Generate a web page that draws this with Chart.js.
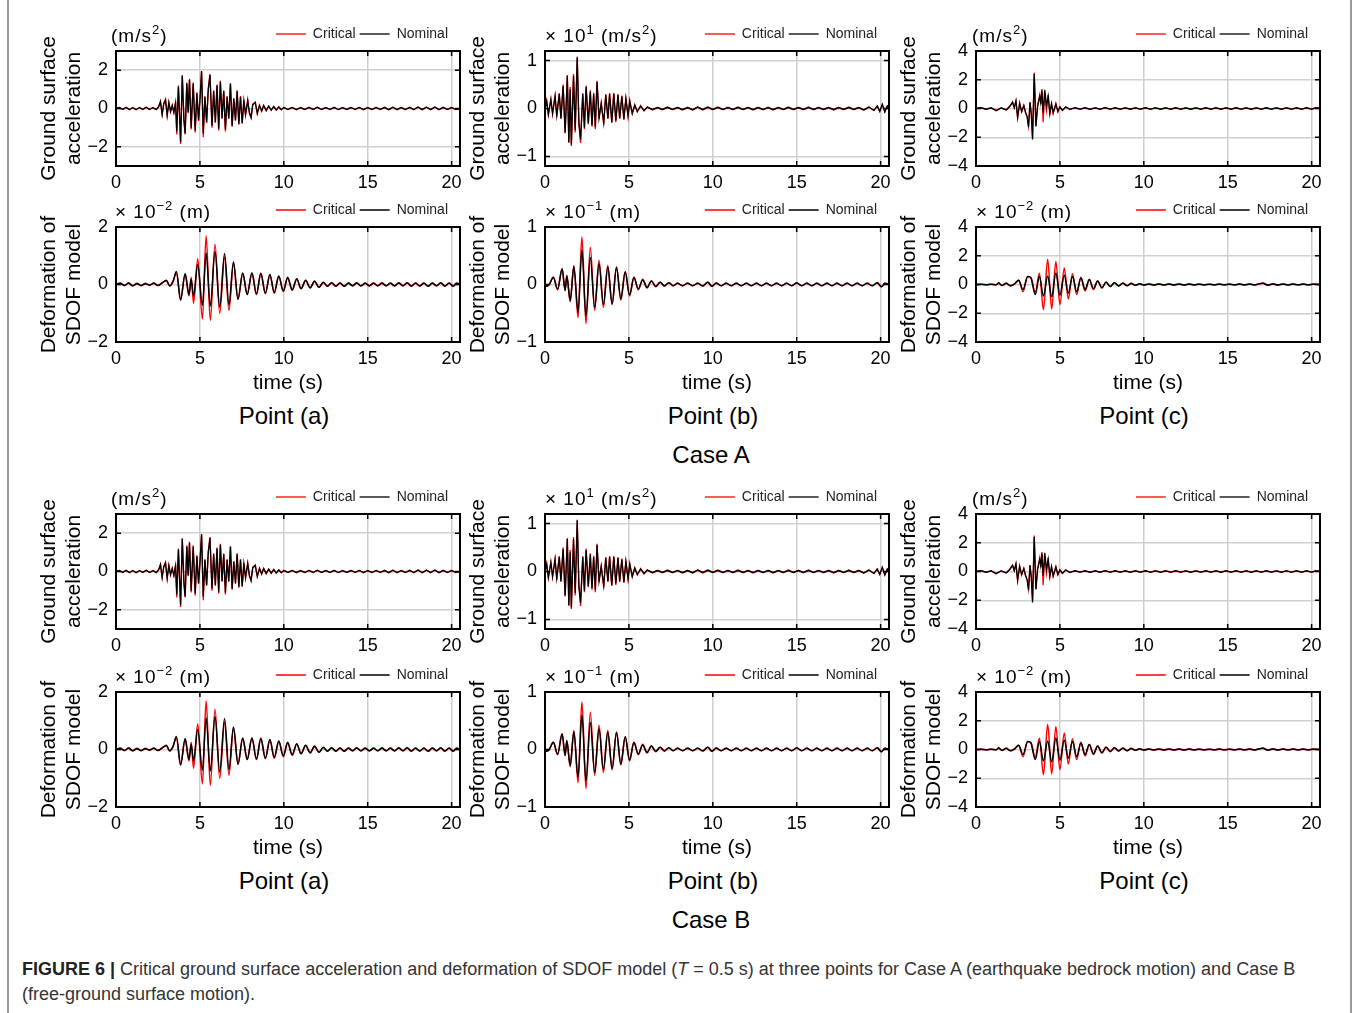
<!DOCTYPE html>
<html>
<head>
<meta charset="utf-8">
<script src="https://cdn.jsdelivr.net/npm/chart.js@4.4.1/dist/chart.umd.min.js"></script>
<style>
  body { margin: 0; width: 1357px; height: 1013px; background: #fff; position: relative; overflow: hidden;
         font-family: 'Liberation Sans', Arial, sans-serif; }
  #frame { position: absolute; left: 7px; top: -2px; width: 1341px; height: 1020px;
           border-left: 2px solid #9a9a9a; border-right: 2px solid #9a9a9a; }
  canvas { position: absolute; }
  .unit { position: absolute; font-size: 19px; line-height: 20px; letter-spacing: 1px; color: #000; white-space: nowrap; }
  .unit sup { font-size: 13px; line-height: 0; vertical-align: 0; position: relative; top: -0.65em; }
  .lbl { position: absolute; font-size: 24px; color: #000; transform: translate(-50%, -50%); white-space: nowrap; }
  #caption { position: absolute; left: 22px; top: 957px; width: 1320px; font-size: 18px; line-height: 25px; color: #333; }
  #caption b { color: #222; }
</style>
</head>
<body>
<div id="frame"></div>
<div id="caption"><b>FIGURE 6 |</b> Critical ground surface acceleration and deformation of SDOF model (<i>T</i> = 0.5 s) at three points for Case A (earthquake bedrock motion) and Case B<br>(free-ground surface motion).</div>

<script>
// ---- data (time in s) ----
const timeTicks = [0, 5, 10, 15, 20];

// Point (a) ground surface acceleration (m/s^2)
const tAccA = [0, 0.2, 0.4, 0.6, 0.8, 1.0, 1.2, 1.4, 1.6, 1.8, 2.0, 2.2, 2.4,
  2.55, 2.65, 2.75, 2.85, 2.95, 3.05, 3.15, 3.25, 3.35, 3.45, 3.55,
  3.62, 3.72, 3.85, 3.95, 4.05, 4.12, 4.22, 4.3, 4.38, 4.48,
  4.6, 4.72, 4.82, 4.92, 5.0, 5.1, 5.2, 5.3, 5.4, 5.5,
  5.6, 5.72, 5.82, 5.92, 6.02, 6.12, 6.22, 6.32, 6.42, 6.52,
  6.62, 6.72, 6.82, 6.92, 7.02, 7.12, 7.22, 7.32, 7.42, 7.52,
  7.62, 7.72, 7.85, 7.95, 8.05, 8.15, 8.3, 8.42, 8.55, 8.68,
  8.8, 8.95, 9.1, 9.25, 9.4, 9.55, 9.7, 9.85,
  10.0, 10.25, 10.5, 10.75, 11.0, 11.25, 11.5, 11.75, 12.0, 12.25,
  12.5, 12.75, 13.0, 13.25, 13.5, 13.75, 14.0, 14.25, 14.5, 14.75,
  15.0, 15.25, 15.5, 15.75, 16.0, 16.25, 16.5, 16.75, 17.0, 17.25,
  17.5, 17.75, 18.0, 18.25, 18.5, 18.75, 19.0, 19.25, 19.5, 19.75,
  20.0, 20.25, 20.5];
const nomAccA = [0, 0.05, -0.04, 0.06, -0.05, 0.04, -0.06, 0.05, -0.04, 0.07, -0.05, 0.04, -0.06,
  0.1, 0.35, -0.3, 0.25, 0.45, -0.35, 0.3, -0.15, 0.15, -0.2, 0.3,
  -1.2, 1.15, -1.75, 1.7, -0.6, -1.3, 1.3, -0.2, 1.5, -1.0,
  1.3, -1.15, 0.8, -0.6, 0.4, 1.95, -1.3, 0.6, -0.7, 1.0,
  1.75, -0.9, 0.9, -0.7, 1.2, -1.05, 1.4, -0.5, 0.9, -1.1,
  0.6, -0.5, 1.3, -0.9, 0.5, -0.6, 0.9, -0.8, 0.6, -0.75,
  0.4, -0.3, 0.4, -0.2, -0.45, 0.2, 0.3, -0.25, 0.15, -0.12,
  0.15, -0.1, 0.12, -0.08, 0.1, -0.08, 0.08, -0.06,
  0.05, -0.04, 0.06, -0.05, 0.04, -0.05, 0.06, -0.04, 0.07, -0.05,
  0.05, -0.04, 0.05, -0.06, 0.04, -0.05, 0.05, -0.04, 0.06, -0.05,
  0.04, -0.05, 0.06, -0.04, 0.05, -0.06, 0.07, -0.05, 0.04, -0.05,
  0.06, -0.05, 0.08, -0.06, 0.07, -0.05, 0.08, -0.06, 0.05, -0.04,
  0.05, -0.04, 0];
const critAccA = [0, 0.04, -0.05, 0.05, -0.06, 0.05, -0.05, 0.04, -0.05, 0.06, -0.04, 0.05, -0.05,
  0.12, 0.38, -0.32, 0.28, 0.48, -0.38, 0.33, -0.18, 0.18, -0.22, 0.35,
  -1.35, 1.2, -1.85, 1.75, -0.65, -1.35, 1.35, -0.25, 1.55, -1.1,
  1.35, -1.25, 0.85, -0.65, 0.45, 1.9, -1.5, 0.65, -0.75, 1.05,
  1.8, -1.0, 0.95, -0.75, 1.25, -1.15, 1.45, -0.55, 0.95, -1.2,
  0.65, -0.55, 1.3, -0.95, 0.55, -0.65, 0.95, -0.85, 0.65, -0.8,
  0.45, -0.35, 0.45, -0.25, -0.5, 0.22, 0.35, -0.28, 0.18, -0.14,
  0.16, -0.12, 0.13, -0.09, 0.11, -0.09, 0.09, -0.07,
  0.06, -0.05, 0.05, -0.06, 0.05, -0.04, 0.05, -0.05, 0.06, -0.04,
  0.04, -0.05, 0.06, -0.05, 0.05, -0.04, 0.06, -0.05, 0.05, -0.06,
  0.05, -0.04, 0.05, -0.05, 0.06, -0.05, 0.06, -0.06, 0.05, -0.04,
  0.05, -0.06, 0.07, -0.05, 0.08, -0.06, 0.07, -0.05, 0.06, -0.05,
  0.04, -0.05, 0];

// Point (a) SDOF deformation (x10^-2 m)
const tDefA = [0, 0.25, 0.5, 0.75, 1.0, 1.25, 1.5, 1.75, 2.0, 2.25, 2.5, 2.75, 3.0, 3.2, 3.4,
  3.6, 3.85, 4.12, 4.35, 4.48, 4.62, 4.87, 5.15, 5.37, 5.62,
  5.9, 6.18, 6.47, 6.73, 7.0, 7.27, 7.55, 7.82, 8.1, 8.37,
  8.63, 8.9, 9.17, 9.43, 9.7, 9.97, 10.23, 10.5, 10.77, 11.03,
  11.3, 11.57, 11.83, 12.1, 12.35, 12.6, 12.85, 13.1, 13.35, 13.6,
  13.85, 14.1, 14.35, 14.6, 14.85, 15.1, 15.35, 15.6, 15.85, 16.1,
  16.35, 16.6, 16.85, 17.1, 17.35, 17.6, 17.85, 18.1, 18.35, 18.6,
  18.85, 19.1, 19.35, 19.6, 19.85, 20.1, 20.3, 20.5];
const nomDefA = [0, 0.04, -0.03, 0.05, -0.04, 0.03, -0.04, 0.03, -0.02, 0.04, -0.03, 0.05, 0.15, -0.05, 0.1,
  0.45, -0.55, 0.38, -0.35, 0.18, -0.4, 0.7, -0.72, 1.1, -0.75,
  1.15, -0.78, 1.08, -0.7, 0.78, -0.52, 0.4, -0.35, 0.4, -0.33,
  0.38, -0.3, 0.35, -0.28, 0.3, -0.22, 0.25, -0.18, 0.2, -0.15,
  0.15, -0.12, 0.12, -0.1, 0.08, -0.06, 0.06, -0.05, 0.05, -0.06,
  0.05, -0.04, 0.05, -0.05, 0.04, -0.05, 0.04, -0.04, 0.05, -0.04,
  0.04, -0.05, 0.05, -0.04, 0.06, -0.05, 0.05, -0.05, 0.04, -0.06,
  0.05, -0.04, 0.06, -0.05, 0.05, -0.06, 0.04, 0];
const critDefA = [0, 0.05, -0.04, 0.04, -0.05, 0.04, -0.03, 0.04, -0.03, 0.05, -0.04, 0.06, 0.12, -0.04, 0.12,
  0.4, -0.5, 0.35, -0.4, 0.25, -0.65, 0.9, -1.2, 1.7, -1.25,
  1.4, -1.0, 0.95, -0.9, 0.75, -0.5, 0.38, -0.33, 0.4, -0.35,
  0.4, -0.32, 0.33, -0.3, 0.28, -0.25, 0.22, -0.2, 0.18, -0.14,
  0.14, -0.11, 0.1, -0.09, 0.07, -0.05, 0.05, -0.06, 0.05, -0.05,
  0.04, -0.05, 0.06, -0.04, 0.05, -0.04, 0.05, -0.05, 0.04, -0.05,
  0.05, -0.04, 0.06, -0.05, 0.05, -0.06, 0.04, -0.05, 0.05, -0.05,
  0.04, -0.05, 0.05, -0.06, 0.04, -0.05, 0.05, 0];

// Point (b) ground surface acceleration (x10^1 m/s^2)
const tAccB = [0, 0.1, 0.2, 0.35, 0.45, 0.6, 0.7, 0.85, 0.95, 1.08,
  1.2, 1.33, 1.42, 1.5, 1.57, 1.7, 1.8, 1.92, 2.02, 2.12,
  2.25, 2.35, 2.45, 2.58, 2.7, 2.8, 2.9, 3.0, 3.1, 3.22,
  3.35, 3.5, 3.62, 3.75, 3.85, 3.98, 4.1, 4.22, 4.35, 4.45,
  4.58, 4.7, 4.82, 4.95, 5.05, 5.2, 5.35, 5.5, 5.7, 5.9,
  6.1, 6.4, 6.7, 7.0, 7.3, 7.6, 7.9, 8.2, 8.5, 8.8,
  9.1, 9.4, 9.7, 10.0, 10.3, 10.6, 10.9, 11.2, 11.5, 11.8,
  12.1, 12.4, 12.7, 13.0, 13.3, 13.6, 13.9, 14.2, 14.5, 14.8,
  15.1, 15.4, 15.7, 16.0, 16.3, 16.6, 16.9, 17.2, 17.5, 17.8,
  18.1, 18.4, 18.7, 19.0, 19.3, 19.6, 19.8, 19.95, 20.1, 20.25,
  20.4, 20.5];
const nomAccB = [0, 0.15, -0.12, 0.18, -0.1, 0.25, -0.15, 0.3, -0.2, 0.47,
  -0.5, 0.68, -0.7, 0.4, -0.75, 0.68, -0.45, 1.08, -0.3, -0.65,
  0.3, -0.4, 0.45, -0.3, 0.35, -0.35, 0.3, -0.38, 0.55, -0.2,
  0.1, -0.3, 0.28, -0.2, 0.3, -0.28, 0.3, -0.25, 0.28, -0.2,
  0.25, -0.22, 0.2, -0.15, 0.15, -0.1, 0.07, -0.06, 0.05, -0.04,
  0.03, -0.02, 0.02, -0.02, 0.02, -0.02, 0.02, -0.02, 0.02, -0.03,
  0.03, -0.02, 0.03, -0.02, 0.02, -0.02, 0.02, -0.02, 0.02, -0.02,
  0.02, -0.02, 0.02, -0.02, 0.02, -0.02, 0.02, -0.02, 0.02, -0.02,
  0.02, -0.02, 0.02, -0.02, 0.02, -0.02, 0.02, -0.02, 0.02, -0.02,
  0.02, -0.02, 0.02, -0.03, 0.03, -0.04, 0.05, -0.06, 0.09, -0.07,
  0.05, 0];
const critAccB = [0, 0.17, -0.14, 0.2, -0.12, 0.27, -0.17, 0.32, -0.22, 0.5,
  -0.52, 0.7, -0.72, 0.45, -0.78, 0.72, -0.5, 1.05, -0.32, -0.72,
  0.32, -0.43, 0.48, -0.33, 0.38, -0.38, 0.33, -0.43, 0.58, -0.22,
  0.12, -0.33, 0.3, -0.22, 0.32, -0.3, 0.33, -0.28, 0.3, -0.22,
  0.27, -0.24, 0.22, -0.17, 0.17, -0.11, 0.08, -0.07, 0.06, -0.05,
  0.03, -0.03, 0.02, -0.02, 0.03, -0.02, 0.02, -0.03, 0.02, -0.02,
  0.03, -0.03, 0.02, -0.02, 0.03, -0.02, 0.02, -0.02, 0.03, -0.02,
  0.02, -0.03, 0.02, -0.02, 0.02, -0.03, 0.02, -0.02, 0.03, -0.02,
  0.02, -0.02, 0.03, -0.02, 0.02, -0.02, 0.02, -0.03, 0.02, -0.02,
  0.03, -0.02, 0.02, -0.03, 0.03, -0.04, 0.05, -0.06, 0.08, -0.07,
  0.05, 0];

// Point (b) SDOF deformation (x10^-1 m)
const tDefB = [0, 0.1, 0.25, 0.5, 0.75, 1.02, 1.2, 1.3, 1.5, 1.72,
  1.97, 2.2, 2.44, 2.7, 2.96, 3.22, 3.48, 3.74, 4.0, 4.26,
  4.52, 4.78, 5.04, 5.3, 5.56, 5.82, 6.08, 6.34, 6.6, 6.86,
  7.12, 7.38, 7.64, 7.9, 8.2, 8.5, 8.8, 9.1, 9.4, 9.7,
  9.95, 10.2, 10.5, 10.8, 11.1, 11.4, 11.7, 12.0, 12.3, 12.6,
  12.9, 13.2, 13.5, 13.8, 14.1, 14.4, 14.7, 15.0, 15.3, 15.6,
  15.9, 16.2, 16.5, 16.8, 17.1, 17.4, 17.7, 18.0, 18.3, 18.6,
  18.9, 19.2, 19.5, 19.8, 20.05, 20.25, 20.5];
const nomDefB = [0, -0.03, 0.0, 0.12, -0.08, 0.27, -0.1, 0.15, -0.28, 0.31,
  -0.48, 0.6, -0.55, 0.47, -0.4, 0.36, -0.35, 0.3, -0.33, 0.3,
  -0.25, 0.22, -0.18, 0.12, -0.08, 0.08, -0.05, 0.06, -0.03, 0.04,
  -0.02, 0.03, -0.02, 0.02, -0.02, 0.02, -0.02, 0.02, -0.02, 0.04,
  -0.03, 0.02, -0.02, 0.02, -0.02, 0.02, -0.02, 0.02, -0.02, 0.02,
  -0.02, 0.02, -0.02, 0.02, -0.02, 0.02, -0.02, 0.03, -0.02, 0.02,
  -0.02, 0.02, -0.02, 0.02, -0.02, 0.02, -0.02, 0.02, -0.02, 0.02,
  -0.02, 0.02, -0.02, 0.03, -0.04, 0.02, 0];
const critDefB = [0, -0.03, 0.0, 0.13, -0.09, 0.28, -0.11, 0.16, -0.3, 0.33,
  -0.58, 0.83, -0.68, 0.65, -0.45, 0.42, -0.4, 0.33, -0.35, 0.3,
  -0.27, 0.22, -0.2, 0.13, -0.09, 0.09, -0.06, 0.06, -0.04, 0.04,
  -0.03, 0.03, -0.02, 0.02, -0.02, 0.02, -0.02, 0.02, -0.03, 0.04,
  -0.03, 0.03, -0.02, 0.02, -0.02, 0.02, -0.02, 0.02, -0.02, 0.02,
  -0.02, 0.02, -0.02, 0.02, -0.02, 0.02, -0.02, 0.02, -0.02, 0.02,
  -0.02, 0.02, -0.02, 0.02, -0.02, 0.02, -0.02, 0.02, -0.02, 0.02,
  -0.02, 0.02, -0.02, 0.03, -0.04, 0.02, 0];

// Point (c) ground surface acceleration (m/s^2)
const tAccC = [0, 0.3, 0.6, 0.9, 1.2, 1.5, 1.8, 2.0, 2.18, 2.28,
  2.38, 2.48, 2.6, 2.72, 2.85, 2.95, 3.05, 3.13, 3.22, 3.3,
  3.37, 3.47, 3.57, 3.67, 3.8, 3.86, 3.93, 4.0, 4.1, 4.2,
  4.3, 4.4, 4.5, 4.6, 4.76, 4.88, 5.0, 5.15, 5.35, 5.6,
  5.9, 6.2, 6.5, 6.8, 7.1, 7.4, 7.7, 8.0, 8.3, 8.6,
  8.9, 9.2, 9.5, 9.8, 10.1, 10.4, 10.7, 11.0, 11.3, 11.6,
  11.9, 12.2, 12.5, 12.8, 13.1, 13.4, 13.7, 14.0, 14.3, 14.6,
  14.9, 15.2, 15.5, 15.8, 16.1, 16.4, 16.7, 17.0, 17.3, 17.6,
  17.9, 18.2, 18.5, 18.8, 19.1, 19.4, 19.7, 20.0, 20.25, 20.5];
const nomAccC = [0, 0.06, -0.05, 0.05, -0.15, 0.04, -0.1, 0.12, 0.45, 0.05,
  0.55, -0.6, 0.35, -0.2, 0.2, -0.25, -0.6, -1.3, 0.45, -0.5,
  -2.15, 2.4, -1.25, 0.15, 0.85, 0.4, 1.25, -0.3, 1.3, 0.15,
  0.85, -0.3, 0.35, -0.3, 0.3, -0.2, 0.1, -0.12, 0.1, -0.06,
  0.05, -0.04, 0.05, -0.05, 0.04, -0.05, 0.06, -0.04, 0.05, -0.04,
  0.04, -0.05, 0.04, -0.04, 0.05, -0.04, 0.04, -0.05, 0.04, -0.04,
  0.05, -0.04, 0.04, -0.05, 0.04, -0.04, 0.05, -0.04, 0.04, -0.05,
  0.04, -0.04, 0.05, -0.04, 0.04, -0.05, 0.04, -0.04, 0.05, -0.04,
  0.04, -0.05, 0.04, -0.04, 0.05, -0.04, 0.05, -0.04, 0.04, 0];
const critAccC = [0, 0.05, -0.06, 0.04, -0.14, 0.05, -0.09, 0.14, 0.42, 0.08,
  0.5, -0.65, 0.4, -0.25, 0.22, -0.3, -0.55, -1.2, 0.4, -0.45,
  -2.0, 2.5, -1.2, 0.2, 0.95, 0.3, 1.35, -0.95, 1.1, -0.1,
  0.95, -0.4, 0.3, -0.35, 0.35, -0.25, 0.12, -0.14, 0.12, -0.07,
  0.06, -0.05, 0.04, -0.06, 0.05, -0.04, 0.05, -0.05, 0.04, -0.05,
  0.05, -0.04, 0.05, -0.05, 0.04, -0.05, 0.05, -0.04, 0.05, -0.05,
  0.04, -0.05, 0.05, -0.04, 0.05, -0.05, 0.04, -0.05, 0.05, -0.04,
  0.05, -0.05, 0.04, -0.05, 0.05, -0.04, 0.05, -0.05, 0.04, -0.05,
  0.05, -0.04, 0.05, -0.05, 0.04, -0.05, 0.04, -0.05, 0.05, 0];

// Point (c) SDOF deformation (x10^-2 m)
const tDefC = [0, 0.3, 0.6, 0.9, 1.2, 1.35, 1.55, 1.8, 2.05, 2.3,
  2.54, 2.8, 3.08, 3.27, 3.53, 3.78, 4.02, 4.27, 4.51, 4.76,
  5.0, 5.26, 5.5, 5.75, 6.0, 6.25, 6.5, 6.75, 7.0, 7.25,
  7.5, 7.75, 8.0, 8.25, 8.5, 8.75, 9.0, 9.25, 9.5, 9.75,
  10.0, 10.3, 10.6, 10.9, 11.2, 11.5, 11.8, 12.1, 12.4, 12.7,
  13.0, 13.3, 13.6, 13.9, 14.2, 14.5, 14.8, 15.1, 15.4, 15.7,
  16.0, 16.3, 16.6, 16.9, 17.1, 17.4, 17.7, 18.0, 18.3, 18.6,
  18.9, 19.2, 19.5, 19.8, 20.1, 20.5];
const nomDefC = [0, 0.01, -0.01, 0.02, -0.02, 0.1, -0.06, 0.08, -0.08, 0.04,
  0.3, -0.35, 0.55, 0.45, -0.7, 0.55, -0.8, 0.6, -0.85, 0.8,
  -0.75, 0.65, -0.6, 0.55, -0.5, 0.45, -0.35, 0.35, -0.3, 0.25,
  -0.22, 0.15, -0.14, 0.12, -0.1, 0.09, -0.08, 0.07, -0.05, 0.05,
  -0.04, 0.03, -0.03, 0.03, -0.03, 0.03, -0.03, 0.03, -0.03, 0.03,
  -0.03, 0.02, -0.03, 0.02, -0.02, 0.03, -0.02, 0.02, -0.02, 0.03,
  -0.02, 0.03, -0.03, 0.05, 0.08, -0.04, 0.04, -0.03, 0.03, -0.03,
  0.03, -0.02, 0.03, -0.02, 0.02, 0];
const critDefC = [0, 0.01, -0.01, 0.02, -0.02, 0.1, -0.07, 0.08, -0.09, 0.05,
  0.3, -0.5, 0.55, 0.5, -0.55, 0.78, -1.75, 1.75, -1.7, 1.6,
  -1.4, 1.15, -1.0, 0.75, -0.7, 0.5, -0.45, 0.35, -0.35, 0.25,
  -0.25, 0.17, -0.15, 0.13, -0.1, 0.1, -0.08, 0.08, -0.06, 0.05,
  -0.05, 0.04, -0.04, 0.04, -0.03, 0.04, -0.03, 0.04, -0.05, 0.03,
  -0.03, 0.03, -0.03, 0.02, -0.03, 0.03, -0.02, 0.03, -0.03, 0.03,
  -0.03, 0.03, -0.03, 0.06, 0.1, -0.05, 0.05, -0.04, 0.03, -0.03,
  0.03, -0.03, 0.03, -0.02, 0.03, 0];

// y tick labels per panel type
const accTicksA = [-2, 0, 2];
const defTicksA = [-2, 0, 2];
const accTicksB = [-1, 0, 1];
const defTicksB = [-1, 0, 1];
const accTicksC = [-4, -2, 0, 2, 4];
const defTicksC = [-4, -2, 0, 2, 4];

const accTitle = ['Ground surface', 'acceleration'];
const defTitle = ['Deformation of', 'SDOF model'];
const pointNames = ['Point (a)', 'Point (b)', 'Point (c)'];
const caseNames = ['Case A', 'Case B'];

// ---- layout of the figure ----
const colLeft = [116, 545, 976];
const rowTop = [51, 227, 514, 692];
const plotW = 344, plotH = 115;

// one column per point; Case B traces look the same as Case A in the figure
const columns = [
  { acc: { t: tAccA, crit: critAccA, nom: nomAccA, min: -3, max: 3, ticks: accTicksA, unit: '(m/s<sup>2</sup>)', dx: -5 },
    def: { t: tDefA, crit: critDefA, nom: nomDefA, min: -2, max: 2, ticks: defTicksA, unit: '× 10<sup>−2</sup> (m)', dx: -1 } },
  { acc: { t: tAccB, crit: critAccB, nom: nomAccB, min: -1.2, max: 1.2, ticks: accTicksB, unit: '× 10<sup>1</sup> (m/s<sup>2</sup>)', dx: 0 },
    def: { t: tDefB, crit: critDefB, nom: nomDefB, min: -1, max: 1, ticks: defTicksB, unit: '× 10<sup>−1</sup> (m)', dx: 0 } },
  { acc: { t: tAccC, crit: critAccC, nom: nomAccC, min: -4, max: 4, ticks: accTicksC, unit: '(m/s<sup>2</sup>)', dx: -4 },
    def: { t: tDefC, crit: critDefC, nom: nomDefC, min: -4, max: 4, ticks: defTicksC, unit: '× 10<sup>−2</sup> (m)', dx: 0 } }
];

Chart.defaults.font.family = "'Liberation Sans', Arial, sans-serif";
Chart.defaults.color = '#000';

const fmt = v => (v < 0 ? '\u2212' + (-v) : String(v));
const GRID = '#cfcfcf';

// MATLAB-like box with inward ticks on all four sides
const boxAxes = {
  id: 'boxAxes',
  afterLayout(chart) {
    // pull the legend in a little from the right edge
    chart.legend.left -= 8;
    chart.legend.right -= 8;
  },
  afterDatasetsDraw(chart) {
    const { ctx, chartArea: a, scales: { x, y } } = chart;
    ctx.save();
    ctx.strokeStyle = '#000';
    ctx.lineWidth = 1.5;
    ctx.beginPath();
    x.ticks.forEach(tk => {
      const px = x.getPixelForValue(tk.value);
      ctx.moveTo(px, a.bottom); ctx.lineTo(px, a.bottom - 5);
      ctx.moveTo(px, a.top); ctx.lineTo(px, a.top + 5);
    });
    y.ticks.forEach(tk => {
      const py = y.getPixelForValue(tk.value);
      ctx.moveTo(a.left, py); ctx.lineTo(a.left + 5, py);
      ctx.moveTo(a.right, py); ctx.lineTo(a.right - 5, py);
    });
    ctx.stroke();
    ctx.lineWidth = 2;
    ctx.strokeRect(a.left, a.top, a.right - a.left, a.bottom - a.top);
    ctx.restore();
  }
};

function pts(t, v) {
  return t.map((x, i) => ({ x: x, y: v[i] }));
}

function makePanel(spec, isDef, left, top) {
  const canvas = document.createElement('canvas');
  const xh = isDef ? 54 : 30;
  canvas.width = 441;
  canvas.height = 32 + plotH + xh + 2;
  document.body.appendChild(canvas);

  const lw = isDef ? 1.5 : 1.3;
  const lineOpts = isDef ? { cubicInterpolationMode: 'monotone' } : { tension: 0 };

  const chart = new Chart(canvas, {
    type: 'line',
    data: {
      datasets: [
        Object.assign({ label: 'Nominal', data: pts(spec.t, spec.nom), borderColor: '#000', borderWidth: lw, pointRadius: 0 }, lineOpts),
        Object.assign({ label: 'Critical', data: pts(spec.t, spec.crit), borderColor: '#ff0000', borderWidth: lw, pointRadius: 0 }, lineOpts)
      ]
    },
    options: {
      responsive: false,
      maintainAspectRatio: false,
      animation: false,
      events: [],
      layout: { padding: { left: 4, right: 14, top: 4, bottom: 2 } },
      plugins: {
        tooltip: { enabled: false },
        legend: {
          position: 'top',
          align: 'end',
          fullSize: false,
          labels: {
            usePointStyle: true,
            pointStyle: 'line',
            pointStyleWidth: 30,
            padding: 4,
            color: '#222',
            font: { size: 14 },
            sort: (a, b) => b.datasetIndex - a.datasetIndex
          }
        }
      },
      scales: {
        x: {
          type: 'linear',
          min: 0,
          max: 20.5,
          afterBuildTicks: s => { s.ticks = timeTicks.map(v => ({ value: v })); },
          afterFit: s => { s.height = xh; s.paddingLeft = 0; s.paddingRight = 0; },
          grid: { color: GRID, lineWidth: 1.5, drawTicks: false },
          border: { display: false },
          ticks: { padding: 6, font: { size: 18 }, maxRotation: 0, autoSkip: false, callback: fmt },
          title: { display: isDef, text: 'time (s)', font: { size: 21, lineHeight: '25px' }, padding: 0 }
        },
        y: {
          min: spec.min,
          max: spec.max,
          afterBuildTicks: s => { s.ticks = spec.ticks.map(v => ({ value: v })); },
          afterFit: s => { s.width = 79; s.paddingTop = 0; s.paddingBottom = 0; },
          grid: { color: GRID, lineWidth: 1.5, drawTicks: false },
          border: { display: false },
          ticks: { padding: 8, font: { size: 18 }, callback: fmt },
          title: { display: true, text: isDef ? defTitle : accTitle, font: { size: 21, lineHeight: '25px' }, padding: 0 }
        }
      }
    },
    plugins: [boxAxes]
  });

  // make the plot area exactly plotW x plotH, then put it where the reference has it
  for (let k = 0; k < 3; k++) {
    const a = chart.chartArea;
    const dw = plotW - (a.right - a.left);
    const dh = plotH - (a.bottom - a.top);
    if (Math.abs(dw) < 0.5 && Math.abs(dh) < 0.5) break;
    chart.resize(chart.width + dw, chart.height + dh);
  }
  const a = chart.chartArea;
  canvas.style.left = (left - a.left) + 'px';
  canvas.style.top = (top - a.top) + 'px';

  const unit = document.createElement('div');
  unit.className = 'unit';
  unit.innerHTML = spec.unit;
  unit.style.left = (left + spec.dx) + 'px';
  unit.style.top = (top - 25) + 'px';
  document.body.appendChild(unit);
}

function addLabel(text, x, y) {
  const d = document.createElement('div');
  d.className = 'lbl';
  d.textContent = text;
  d.style.left = x + 'px';
  d.style.top = y + 'px';
  document.body.appendChild(d);
}

caseNames.forEach((name, c) => {
  columns.forEach((col, j) => {
    makePanel(col.acc, false, colLeft[j], rowTop[2 * c]);
    makePanel(col.def, true, colLeft[j], rowTop[2 * c + 1]);
    addLabel(pointNames[j], colLeft[j] + plotW / 2 - 4, c === 0 ? 416 : 881);
  });
  addLabel(name, 711, c === 0 ? 455 : 920);
});
</script>
</body>
</html>
